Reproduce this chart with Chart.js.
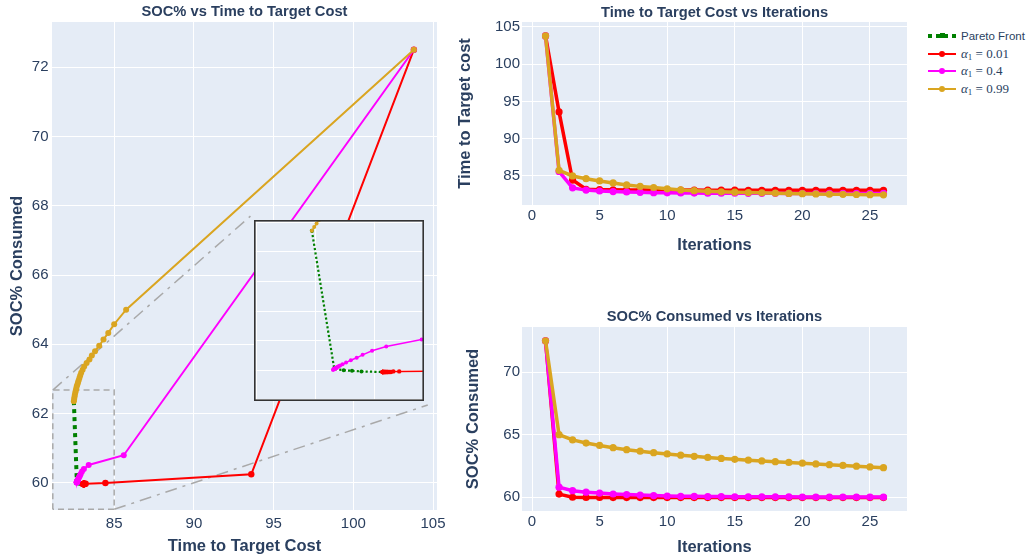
<!DOCTYPE html>
<html>
<head>
<meta charset="utf-8">
<script src="https://cdn.jsdelivr.net/npm/chart.js@4.4.1/dist/chart.umd.min.js"></script>
<style>
  html, body { margin: 0; padding: 0; background: #fff; }
  body { width: 1029px; height: 559px; position: relative; overflow: hidden; }
  canvas { position: absolute; }
  #legend { position: absolute; left: 928px; top: 27px; color: #2a3f5f; }
  .item { height: 17.7px; display: flex; align-items: center; white-space: nowrap; }
  .sym { position: relative; width: 28px; height: 10px; margin-right: 5px; flex: none; }
  .sym .ln { position: absolute; left: 0; right: 0; top: 4px; height: 2px; }
  .sym .dot { position: absolute; left: 11px; top: 2px; width: 6px; height: 6px; border-radius: 50%; }
  .txt { font-family: "Liberation Sans", Arimo, Arial, sans-serif; font-size: 11.5px; }
  .math { font-family: "Liberation Serif", "DejaVu Serif", serif; font-size: 13px; }
  .math sub { font-size: 9px; vertical-align: -2px; }
</style>
</head>
<body>
<canvas id="main" width="460" height="559" style="left:0;top:0;"></canvas>
<canvas id="timeIter" width="475" height="260" style="left:445px;top:0;"></canvas>
<canvas id="socIter" width="475" height="269" style="left:445px;top:290px;"></canvas>
<canvas id="inset" style="z-index:2;"></canvas>
<div id="legend"></div>
<script>
// ---- data ----
const iterations = [1, 2, 3, 4, 5, 6, 7, 8, 9, 10, 11, 12, 13, 14, 15, 16, 17, 18, 19, 20, 21, 22, 23, 24, 25, 26];

// alpha1 = 0.01
const timeA001 = [103.8, 93.6, 84.45, 83.21, 83.16, 83.14, 83.13, 83.12, 83.11, 83.11, 83.1, 83.1, 83.09, 83.09, 83.09, 83.08, 83.08, 83.08, 83.08, 83.07, 83.07, 83.07, 83.07, 83.07, 83.07, 83.07];
const socA001 = [72.5, 60.25, 60.0, 59.98, 59.98, 59.97, 59.97, 59.97, 59.97, 59.97, 59.97, 59.97, 59.97, 59.97, 59.97, 59.97, 59.97, 59.97, 59.97, 59.97, 59.97, 59.97, 59.97, 59.97, 59.97, 59.97];

// alpha1 = 0.4
const timeA04 = [103.8, 85.6, 83.4, 83.1, 82.98, 82.9, 82.85, 82.8, 82.76, 82.73, 82.71, 82.7, 82.69, 82.68, 82.68, 82.67, 82.67, 82.67, 82.66, 82.66, 82.66, 82.66, 82.66, 82.66, 82.65, 82.65];
const socA04 = [72.5, 60.8, 60.52, 60.4, 60.33, 60.26, 60.21, 60.17, 60.13, 60.1, 60.08, 60.07, 60.06, 60.05, 60.04, 60.04, 60.03, 60.03, 60.03, 60.02, 60.02, 60.02, 60.02, 60.02, 60.01, 60.01];

// alpha1 = 0.99
const timeA099 = [103.8, 85.75, 85.0, 84.63, 84.33, 84.06, 83.8, 83.6, 83.45, 83.27, 83.12, 83.02, 82.93, 82.87, 82.82, 82.77, 82.73, 82.69, 82.65, 82.62, 82.59, 82.56, 82.53, 82.51, 82.49, 82.47];
const socA099 = [72.5, 65.0, 64.58, 64.33, 64.14, 63.96, 63.8, 63.68, 63.56, 63.46, 63.36, 63.27, 63.18, 63.1, 63.03, 62.96, 62.9, 62.84, 62.78, 62.72, 62.66, 62.6, 62.54, 62.48, 62.42, 62.36];

// pareto front
const paretoTime = [82.47, 82.66, 82.74, 82.81, 82.89, 83.07];
const paretoSoc = [62.36, 60.02, 60.0, 59.99, 59.98, 59.97];

// zoomed region and where its inset sits, in main chart units
const zoomTime = [81.15, 85.0];
const zoomSoc = [59.24, 62.68];
const insetTime = [93.55, 104.67];
const insetSoc = [62.25, 67.7];
const insetRangeTime = [81.98, 83.42];
const insetRangeSoc = [59.48, 62.54];

const seriesNames = ["0.01", "0.4", "0.99"];
const seriesColors = ["#ff0000", "#ff00ff", "#daa520"];
const paretoColor = "#008000";
const guideColor = "#a9a9a9";

const FONT = '"Liberation Sans", Arimo, Arial, sans-serif';
const INK = "#2a3f5f";
const PLOT_BG = "#e5ecf6";

function pairs(xs, ys) {
  return xs.map((x, i) => ({ x: x, y: ys[i] }));
}

const plotBg = {
  id: "plotBg",
  beforeDraw(chart) {
    const { ctx, chartArea: a } = chart;
    ctx.save();
    ctx.fillStyle = PLOT_BG;
    ctx.fillRect(a.left, a.top, a.right - a.left, a.bottom - a.top);
    ctx.restore();
  },
};

const frame = {
  id: "frame",
  afterDraw(chart) {
    const { ctx, chartArea: a } = chart;
    ctx.save();
    ctx.strokeStyle = "#333";
    ctx.lineWidth = 1.6;
    ctx.strokeRect(a.left + 0.8, a.top + 0.8, a.right - a.left - 1.6, a.bottom - a.top - 1.6);
    ctx.restore();
  },
};

function axis(opts) {
  return {
    type: "linear",
    min: opts.min,
    max: opts.max,
    afterFit: opts.fit,
    border: { display: false },
    grid: { color: "#ffffff", lineWidth: 1, drawTicks: false },
    ticks: {
      display: opts.ticks !== false,
      stepSize: opts.step,
      includeBounds: false,
      padding: opts.pad || 0,
      color: INK,
      font: { family: FONT, size: 15 },
    },
    title: {
      display: !!opts.title,
      text: opts.title,
      color: INK,
      font: { family: FONT, size: 16.5, weight: "bold" },
      padding: opts.titlePad || 0,
    },
  };
}

function seriesSet(times, socs, i, style) {
  return {
    label: seriesNames[i],
    data: pairs(times, socs),
    borderColor: seriesColors[i],
    backgroundColor: seriesColors[i],
    borderWidth: style.line,
    pointRadius: style.point,
    pointBorderWidth: 0,
    pointHoverRadius: style.point,
    tension: 0,
    order: 2 - i,
  };
}

function paretoSet(style) {
  return {
    label: "Pareto Front",
    data: pairs(paretoTime, paretoSoc),
    borderColor: paretoColor,
    backgroundColor: paretoColor,
    borderWidth: style.line,
    borderDash: style.dash,
    borderCapStyle: "butt",
    pointRadius: style.point,
    pointBorderWidth: 0,
    tension: 0,
    order: 3,
  };
}

function guideSet(pts, dash) {
  return {
    data: pts,
    borderColor: guideColor,
    borderWidth: 1.5,
    borderDash: dash,
    pointRadius: 0,
    fill: false,
    tension: 0,
    order: 4,
  };
}

const baseOptions = {
  responsive: false,
  animation: false,
  events: [],
  devicePixelRatio: 1,
};

function titleOpt(text, top, bottom) {
  return {
    display: true,
    text: text,
    color: INK,
    fullSize: false,
    font: { family: FONT, size: 14.7, weight: "bold" },
    padding: { top: top, bottom: bottom },
  };
}

// ---- main chart: SOC% vs time ----
const mainChart = new Chart(document.getElementById("main"), {
  type: "line",
  data: {
    datasets: [
      seriesSet(timeA099, socA099, 2, { line: 2, point: 3 }),
      seriesSet(timeA04, socA04, 1, { line: 2, point: 3 }),
      seriesSet(timeA001, socA001, 0, { line: 2, point: 3.2 }),
      paretoSet({ line: 4, dash: [4, 4], point: 2.2 }),
      guideSet([
        { x: zoomTime[0], y: zoomSoc[0] }, { x: zoomTime[0], y: zoomSoc[1] },
        { x: zoomTime[1], y: zoomSoc[1] }, { x: zoomTime[1], y: zoomSoc[0] },
        { x: zoomTime[0], y: zoomSoc[0] },
      ], [6, 4]),
      guideSet([{ x: zoomTime[0], y: zoomSoc[1] }, { x: insetTime[0], y: insetSoc[1] }], [12, 6, 3, 6]),
      guideSet([{ x: zoomTime[1], y: zoomSoc[0] }, { x: insetTime[1], y: insetSoc[0] }], [12, 6, 3, 6]),
    ],
  },
  options: Object.assign({}, baseOptions, {
    layout: { padding: { left: 0, right: 23, top: 0, bottom: 0 } },
    plugins: {
      legend: { display: false },
      tooltip: { enabled: false },
      title: titleOpt("SOC% vs Time to Target Cost", 3, 1.36),
    },
    scales: {
      x: axis({ min: 81.1, max: 105.25, step: 5, pad: 4.5, title: "Time to Target Cost", titlePad: { bottom: 2.6 },
        fit: (s) => { s.height = 49; } }),
      y: axis({ min: 59.22, max: 73.3, step: 2, pad: 3.5, title: "SOC% Consumed", titlePad: { top: 8 },
        fit: (s) => { s.width = 52; } }),
    },
  }),
  plugins: [plotBg],
});

// ---- inset, placed over the main chart at insetTime x insetSoc ----
const mx = mainChart.scales.x, my = mainChart.scales.y;
const insetLeft = Math.round(mx.getPixelForValue(insetTime[0]));
const insetRight = Math.round(mx.getPixelForValue(insetTime[1]));
const insetTop = Math.round(my.getPixelForValue(insetSoc[1]));
const insetBottom = Math.round(my.getPixelForValue(insetSoc[0]));
const insetCanvas = document.getElementById("inset");
insetCanvas.width = insetRight - insetLeft;
insetCanvas.height = insetBottom - insetTop;
insetCanvas.style.left = insetLeft + "px";
insetCanvas.style.top = insetTop + "px";

new Chart(insetCanvas, {
  type: "line",
  data: {
    datasets: [
      seriesSet(timeA099, socA099, 2, { line: 1.5, point: 2 }),
      seriesSet(timeA04, socA04, 1, { line: 1.5, point: 2 }),
      seriesSet(timeA001, socA001, 0, { line: 1.5, point: 2.2 }),
      paretoSet({ line: 2.2, dash: [2.2, 2.2], point: 2 }),
    ],
  },
  options: Object.assign({}, baseOptions, {
    layout: { padding: 0 },
    plugins: { legend: { display: false }, tooltip: { enabled: false } },
    scales: {
      x: axis({ min: insetRangeTime[0], max: insetRangeTime[1], step: 0.5, ticks: false, fit: (s) => { s.height = 0; } }),
      y: axis({ min: insetRangeSoc[0], max: insetRangeSoc[1], step: 0.5, ticks: false, fit: (s) => { s.width = 0; } }),
    },
  }),
  plugins: [plotBg, frame],
});

// ---- right hand charts vs iterations ----
function iterChart(id, title, titlePad, yTitle, yTitlePad, values, yMin, yMax, xTitlePad, xFit, xTickPad) {
  return new Chart(document.getElementById(id), {
    type: "line",
    data: {
      datasets: values.map((v, i) => seriesSet(iterations, v, i, { line: 3.5, point: 3.6 })).reverse(),
    },
    options: Object.assign({}, baseOptions, {
      layout: { padding: { left: 0, right: 13, top: 0, bottom: 0 } },
      plugins: {
        legend: { display: false },
        tooltip: { enabled: false },
        title: titleOpt(title, titlePad[0], titlePad[1]),
      },
      scales: {
        x: axis({ min: -0.74, max: 27.74, step: 5, pad: xTickPad, title: "Iterations", titlePad: { bottom: xTitlePad },
          fit: (s) => { s.height = xFit; } }),
        y: axis({ min: yMin, max: yMax, step: 5, pad: 2, title: yTitle, titlePad: { top: yTitlePad },
          fit: (s) => { s.width = 77; } }),
      },
    }),
    plugins: [plotBg],
  });
}

iterChart("timeIter", "Time to Target Cost vs Iterations", [3.9, 0.46], "Time to Target cost", 10.1,
  [timeA001, timeA04, timeA099], 81.1, 105.67, 5.1, 55, 1.5);
iterChart("socIter", "SOC% Consumed vs Iterations", [18.2, 1.16], "SOC% Consumed", 18.6,
  [socA001, socA04, socA099], 58.9, 73.6, 2.1, 48, 1.7);

// ---- shared legend ----
const legend = document.getElementById("legend");
function legendItem(symHtml, textHtml) {
  const row = document.createElement("div");
  row.className = "item";
  row.innerHTML = '<div class="sym">' + symHtml + "</div>" + textHtml;
  legend.appendChild(row);
}
legendItem(
  '<div class="ln" style="top:3px;height:4px;background:repeating-linear-gradient(90deg,' + paretoColor + ' 0 4px,transparent 4px 8px);"></div>' +
  '<div class="dot" style="left:12px;top:2.5px;width:5px;height:5px;border-radius:0;background:' + paretoColor + ';"></div>',
  '<span class="txt">Pareto Front</span>'
);
seriesNames.forEach((name, i) => {
  legendItem(
    '<div class="ln" style="background:' + seriesColors[i] + ';"></div>' +
    '<div class="dot" style="background:' + seriesColors[i] + ';"></div>',
    '<span class="math"><i>α</i><sub>1</sub> = ' + name + "</span>"
  );
});
</script>
</body>
</html>
